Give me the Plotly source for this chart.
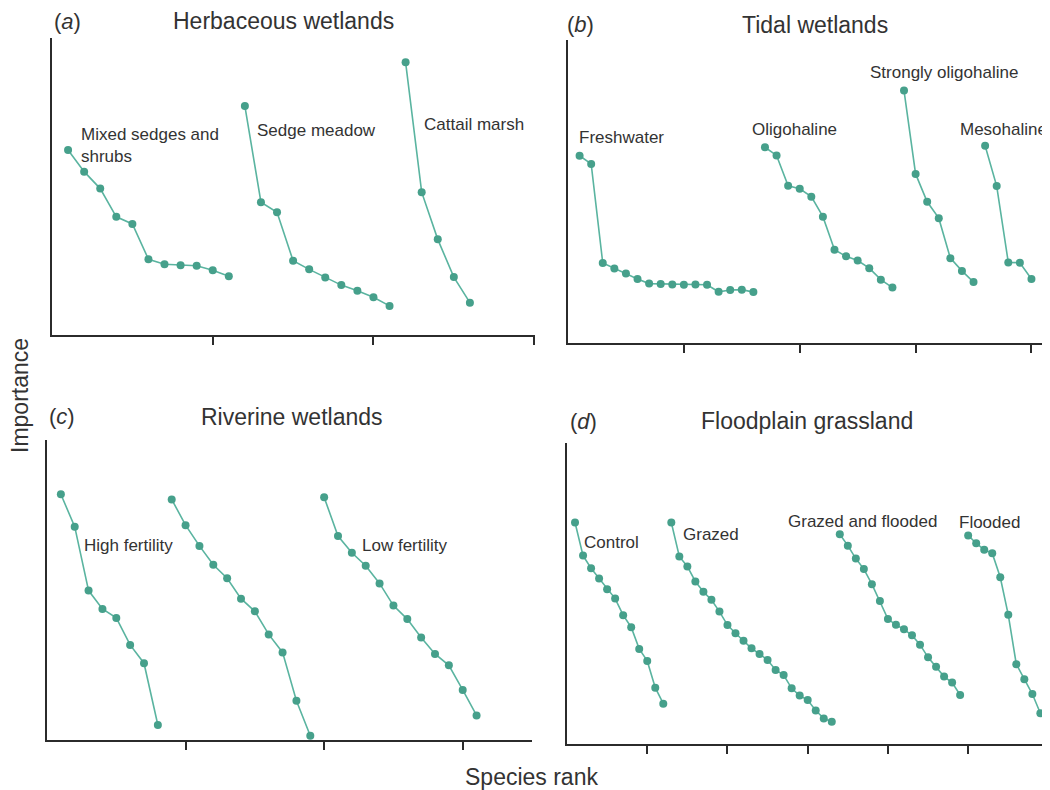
import plotly.graph_objects as go

# ---------------- data (species rank, importance) ----------------
# Panel (a) Herbaceous wetlands
a_mixed_rank = list(range(1, 12))
a_mixed_imp = [62.3, 55.0, 49.3, 39.8, 37.4, 25.5, 23.8, 23.5, 23.3, 21.8, 19.8]
a_sedge_rank = list(range(12, 22))
a_sedge_imp = [77.1, 44.7, 41.3, 25.0, 22.1, 19.4, 16.8, 14.9, 12.7, 9.8]
a_cattail_rank = list(range(22, 27))
a_cattail_imp = [91.8, 48.1, 32.2, 19.5, 10.9]

# Panel (b) Tidal wetlands
b_fresh_rank = list(range(1, 17))
b_fresh_imp = [61.8, 59.1, 26.4, 24.6, 22.9, 21.1, 19.6, 19.5, 19.3, 19.2, 19.3, 19.2, 16.9, 17.5, 17.6, 16.8]
b_oligo_rank = list(range(17, 29))
b_oligo_imp = [64.6, 61.9, 51.9, 50.9, 48.3, 41.7, 30.8, 28.6, 27.2, 24.7, 20.9, 18.3]
b_strong_rank = list(range(29, 36))
b_strong_imp = [83.3, 55.8, 46.6, 41.2, 28.0, 23.8, 20.1]
b_meso_rank = list(range(36, 41))
b_meso_imp = [65.1, 51.8, 26.6, 26.5, 21.1]

# Panel (c) Riverine wetlands
c_high_rank = list(range(1, 9))
c_high_imp = [81.9, 71.1, 49.8, 43.7, 40.7, 31.7, 25.6, 5.0]
c_mid_rank = list(range(9, 20))
c_mid_imp = [80.2, 71.6, 64.7, 58.4, 53.9, 47.1, 42.9, 35.2, 29.2, 13.1, 1.4]
c_low_rank = list(range(20, 32))
c_low_imp = [80.9, 68.0, 62.4, 58.1, 52.2, 44.8, 40.3, 34.2, 28.7, 24.9, 16.7, 8.2]

# Panel (d) Floodplain grassland
d_control_rank = list(range(1, 13))
d_control_imp = [73.6, 62.6, 58.4, 55.0, 51.4, 48.3, 42.8, 38.8, 31.6, 27.6, 18.7, 13.4]
d_grazed_rank = list(range(13, 34))
d_grazed_imp = [73.6, 62.3, 59.0, 54.0, 50.6, 47.9, 44.0, 39.5, 36.8, 34.3, 31.8, 29.9,
                27.9, 24.6, 22.9, 18.5, 16.1, 14.6, 11.1, 8.5, 7.4]
d_gf_rank = list(range(34, 50))
d_gf_imp = [69.7, 65.9, 61.6, 58.1, 53.1, 47.5, 41.5, 39.6, 38.1, 36.1, 33.0, 28.8, 25.7, 22.4, 20.4, 16.3]
d_flooded_rank = list(range(50, 60))
d_flooded_imp = [69.3, 66.7, 64.5, 63.4, 55.4, 42.9, 26.5, 21.5, 16.6, 10.2]

panel_letters = ["a", "b", "c", "d"]
panel_titles = ["Herbaceous wetlands", "Tidal wetlands", "Riverine wetlands", "Floodplain grassland"]
x_ticks = [[10, 20, 30], [10, 20, 30, 40], [10, 20, 30], [10, 20, 30, 40, 50, 60]]

series = [
    (1, a_mixed_rank, a_mixed_imp, "Mixed sedges and<br>shrubs", 1.7, 71.5, "top"),
    (1, a_sedge_rank, a_sedge_imp, "Sedge meadow", 12.6, 69, "middle"),
    (1, a_cattail_rank, a_cattail_imp, "Cattail marsh", 23.0, 71, "middle"),
    (2, b_fresh_rank, b_fresh_imp, "Freshwater", 0.8, 67.7, "middle"),
    (2, b_oligo_rank, b_oligo_imp, "Oligohaline", 15.7, 70.3, "middle"),
    (2, b_strong_rank, b_strong_imp, "Strongly oligohaline", 25.9, 89.4, "middle"),
    (2, b_meso_rank, b_meso_imp, "Mesohaline", 33.7, 70.3, "middle"),
    (3, c_high_rank, c_high_imp, "High fertility", 2.5, 65, "middle"),
    (3, c_mid_rank, c_mid_imp, None, 0, 0, "middle"),
    (3, c_low_rank, c_low_imp, "Low fertility", 22.6, 64.7, "middle"),
    (4, d_control_rank, d_control_imp, "Control", 1.9, 66.8, "middle"),
    (4, d_grazed_rank, d_grazed_imp, "Grazed", 14.2, 69.5, "middle"),
    (4, d_gf_rank, d_gf_imp, "Grazed and flooded", 27.3, 73.8, "middle"),
    (4, d_flooded_rank, d_flooded_imp, "Flooded", 48.6, 73.5, "middle"),
]

# ---------------- layout geometry (window pixels) ----------------
OFF = 8  # page body margin
W, H = 1050 - OFF, 790 - OFF


def px_x(px):
    return (px - OFF) / W


def px_y(py):
    return 1 - (py - OFF) / H


# (left px, right px, bottom px, top px, x range max)
geom = [
    (52, 535, 335, 38, 30.05),
    (568, 1050, 343, 40, 41.6),
    (47, 532, 740, 440, 35.0),
    (567, 1050, 744, 443, 60.2),
]
title_pos = [(67, 283, 21), (580, 815, 25), (62, 292, 417), (583, 807, 421)]

FONT = "Liberation Sans, Arial, Helvetica, sans-serif"
TEXT = "#333333"
AXIS = "#2b2b2b"
MARK = "#46a08b"
LINE = "#5ab4a0"

fig = go.Figure()
annotations = []

for (panel, xs, ys, label, lx, ly, yanch) in series:
    suffix = "" if panel == 1 else str(panel)
    fig.add_trace(go.Scatter(
        x=xs, y=ys, mode="lines+markers", xaxis="x" + suffix, yaxis="y" + suffix,
        line=dict(color=LINE, width=1.6),
        marker=dict(color=MARK, size=8),
        showlegend=False, hoverinfo="skip", cliponaxis=False,
    ))
    if label:
        annotations.append(dict(
            x=lx, y=ly, xref="x" + suffix, yref="y" + suffix, text=label,
            showarrow=False, xanchor="left", yanchor=yanch, align="left",
            font=dict(family=FONT, size=17, color=TEXT),
        ))

layout = dict(
    width=W, height=H, margin=dict(l=0, r=0, t=0, b=0),
    paper_bgcolor="white", plot_bgcolor="white",
    showlegend=False, font=dict(family=FONT, color=TEXT),
)

for i, (l, r, b, t, xmax) in enumerate(geom):
    suffix = "" if i == 0 else str(i + 1)
    layout["xaxis" + suffix] = dict(
        domain=[px_x(l), min(px_x(r), 1.0)], range=[0, xmax], anchor="y" + suffix,
        showgrid=False, zeroline=False, showline=True, linecolor=AXIS, linewidth=1.6,
        tickvals=x_ticks[i], ticks="outside", ticklen=8, tickwidth=1.5, tickcolor=AXIS,
        showticklabels=False, fixedrange=True,
    )
    layout["yaxis" + suffix] = dict(
        domain=[px_y(b), px_y(t)], range=[0, 100], anchor="x" + suffix,
        showgrid=False, zeroline=False, showline=True, linecolor=AXIS, linewidth=1.6,
        ticks="", showticklabels=False, fixedrange=True,
    )
    lx, tx, ty = title_pos[i]
    annotations.append(dict(
        x=px_x(lx), y=px_y(ty), xref="paper", yref="paper",
        text="(<i>" + panel_letters[i] + "</i>)", showarrow=False,
        xanchor="center", yanchor="middle", font=dict(family=FONT, size=22, color=TEXT),
    ))
    annotations.append(dict(
        x=px_x(tx), y=px_y(ty), xref="paper", yref="paper",
        text=panel_titles[i], showarrow=False,
        xanchor="center", yanchor="middle", font=dict(family=FONT, size=23, color=TEXT),
    ))

annotations.append(dict(
    x=px_x(20), y=px_y(396), xref="paper", yref="paper", text="Importance",
    showarrow=False, textangle=-90, xanchor="center", yanchor="middle",
    font=dict(family=FONT, size=23, color=TEXT),
))
annotations.append(dict(
    x=px_x(531), y=px_y(777), xref="paper", yref="paper", text="Species rank",
    showarrow=False, xanchor="center", yanchor="middle",
    font=dict(family=FONT, size=23, color=TEXT),
))

layout["annotations"] = annotations
fig.update_layout(**layout)
fig.write_html("out.html", post_script="document.documentElement.style.overflow='hidden';")
